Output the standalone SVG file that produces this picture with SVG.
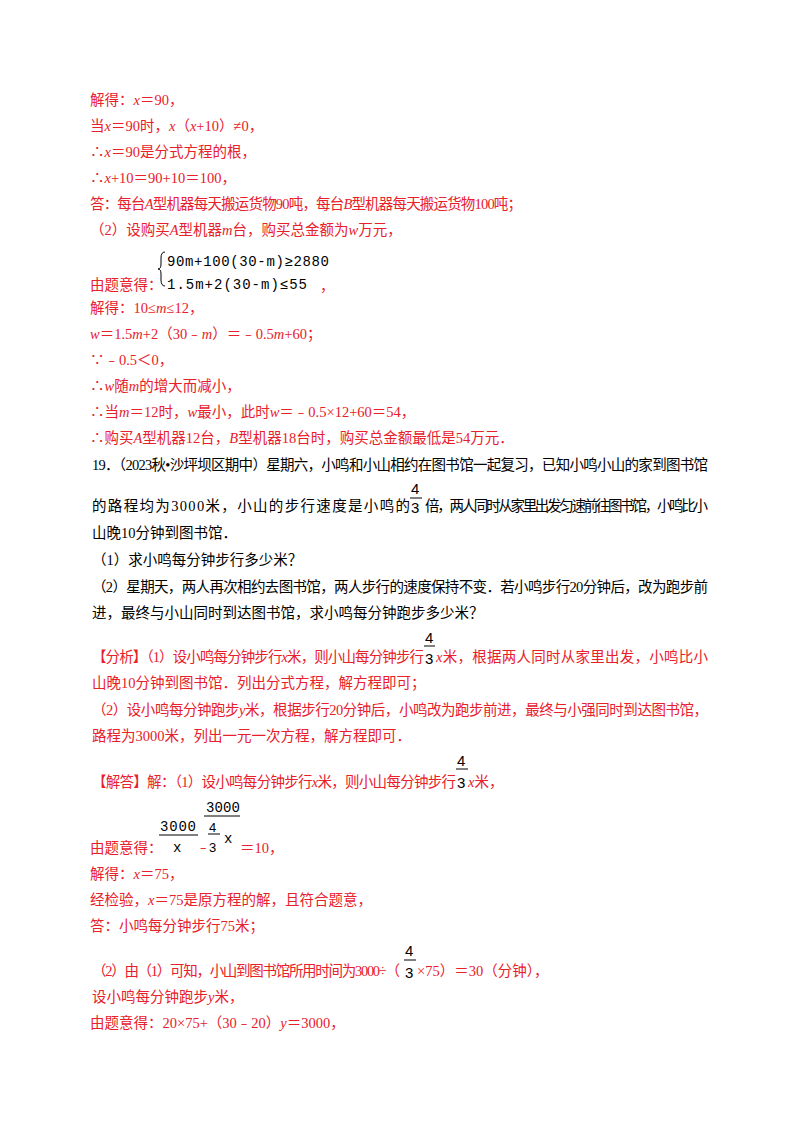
<svg xmlns="http://www.w3.org/2000/svg" width="800" height="1132" viewBox="0 0 800 1132">
<style>
text{font-family:"Liberation Serif","Noto Sans CJK SC",serif;font-size:14.5px;fill:#e8202a}
.k{fill:#000}
.m{font-family:"Liberation Mono","Noto Sans CJK SC",monospace;font-size:14px}
.f{font-family:"Liberation Sans",sans-serif;font-size:15px}
.i{font-style:italic}
line{stroke:#000;stroke-width:1}
</style>
<rect width="800" height="1132" fill="#fff"/>
<text x="90" y="105">解得：<tspan class="i">x</tspan>＝90，</text>
<text x="90" y="131">当<tspan class="i">x</tspan>＝90时，<tspan class="i">x</tspan>（<tspan class="i">x</tspan>+10）≠0，</text>
<text x="90" y="157">∴<tspan class="i">x</tspan>＝90是分式方程的根，</text>
<text x="90" y="183">∴<tspan class="i">x</tspan>+10＝90+10＝100，</text>
<text x="90" y="209" textLength="432">答：每台<tspan class="i">A</tspan>型机器每天搬运货物90吨，每台<tspan class="i">B</tspan>型机器每天搬运货物100吨；</text>
<text x="90" y="235">（2）设购买<tspan class="i">A</tspan>型机器<tspan class="i">m</tspan>台，购买总金额为<tspan class="i">w</tspan>万元，</text>
<text x="90" y="290">由题意得：</text>
<path d="M165 252 q-4 0 -4 6 v6 q0 5 -3 5 q3 0 3 5 v6 q0 6 4 6" fill="none" stroke="#000"/>
<text x="167" y="266" class="m k" textLength="162">90m+100(30-m)≥2880</text>
<text x="167" y="289" class="m k" textLength="140">1.5m+2(30-m)≤55</text>
<text x="320" y="291">，</text>
<text x="90" y="313">解得：10≤<tspan class="i">m</tspan>≤12，</text>
<text x="90" y="339"><tspan class="i">w</tspan>＝1.5<tspan class="i">m</tspan>+2（30﹣<tspan class="i">m</tspan>）＝﹣0.5<tspan class="i">m</tspan>+60；</text>
<text x="90" y="365">∵﹣0.5＜0，</text>
<text x="90" y="391">∴<tspan class="i">w</tspan>随<tspan class="i">m</tspan>的增大而减小，</text>
<text x="90" y="417">∴当<tspan class="i">m</tspan>＝12时，<tspan class="i">w</tspan>最小，此时<tspan class="i">w</tspan>＝﹣0.5×12+60＝54，</text>
<text x="90" y="443">∴购买<tspan class="i">A</tspan>型机器12台，<tspan class="i">B</tspan>型机器18台时，购买总金额最低是54万元．</text>

<text x="92" y="470" class="k" textLength="616">19．（2023秋•沙坪坝区期中）星期六，小鸣和小山相约在图书馆一起复习，已知小鸣小山的家到图书馆</text>
<text x="92" y="511" class="k" textLength="318">的路程均为3000米，小山的步行速度是小鸣的</text>
<text x="411" y="494" class="f k">4</text><line x1="410" y1="498" x2="422" y2="498"/><text x="411" y="513" class="f k">3</text>
<text x="425" y="511" class="k" textLength="283">倍，两人同时从家里出发匀速前往图书馆，小鸣比小</text>
<text x="92" y="538" class="k">山晚10分钟到图书馆．</text>
<text x="92" y="565" class="k">（1）求小鸣每分钟步行多少米？</text>
<text x="92" y="592" class="k" textLength="616">（2）星期天，两人再次相约去图书馆，两人步行的速度保持不变．若小鸣步行20分钟后，改为跑步前</text>
<text x="92" y="618" class="k">进，最终与小山同时到达图书馆，求小鸣每分钟跑步多少米？</text>

<text x="92" y="662" textLength="332">【分析】（1）设小鸣每分钟步行<tspan class="i">x</tspan>米，则小山每分钟步行</text>
<text x="425" y="643" class="f k">4</text><line x1="424" y1="646" x2="435" y2="646"/><text x="425" y="664" class="f k">3</text>
<text x="436" y="662" textLength="272"><tspan class="i">x</tspan>米，根据两人同时从家里出发，小鸣比小</text>
<text x="92" y="688">山晚10分钟到图书馆．列出分式方程，解方程即可；</text>
<text x="92" y="715" textLength="616">（2）设小鸣每分钟跑步<tspan class="i">y</tspan>米，根据步行20分钟后，小鸣改为跑步前进，最终与小强同时到达图书馆，</text>
<text x="92" y="741">路程为3000米，列出一元一次方程，解方程即可．</text>

<text x="92" y="787" textLength="364">【解答】解：（1）设小鸣每分钟步行<tspan class="i">x</tspan>米，则小山每分钟步行</text>
<text x="457" y="766" class="f k">4</text><line x1="456" y1="769" x2="468" y2="769"/><text x="457" y="788" class="f k">3</text>
<text x="468" y="787"><tspan class="i">x</tspan>米，</text>

<text x="90" y="853">由题意得：</text>
<text x="160" y="831" class="m k" textLength="36">3000</text>
<line x1="159" y1="835" x2="198" y2="835"/>
<text x="173" y="852" class="m k">x</text>
<text x="196" y="852">﹣</text>
<text x="206" y="812" class="m k" textLength="34">3000</text>
<line x1="204" y1="816" x2="240" y2="816"/>
<text x="209" y="832" class="f k" style="font-size:13px">4</text>
<line x1="208" y1="834" x2="220" y2="834"/>
<text x="209" y="852" class="f k" style="font-size:13px">3</text>
<text x="224" y="843" class="m k">x</text>
<text x="240" y="853">＝10，</text>
<text x="90" y="879">解得：<tspan class="i">x</tspan>＝75，</text>
<text x="90" y="905">经检验，<tspan class="i">x</tspan>＝75是原方程的解，且符合题意，</text>
<text x="90" y="931">答：小鸣每分钟步行75米；</text>

<text x="92" y="976" textLength="308">（2）由（1）可知，小山到图书馆所用时间为3000÷（</text>
<text x="405" y="956" class="f k">4</text><line x1="404" y1="960" x2="416" y2="960"/><text x="405" y="978" class="f k">3</text>
<text x="417" y="976">×75）＝30（分钟），</text>
<text x="92" y="1002">设小鸣每分钟跑步<tspan class="i">y</tspan>米，</text>
<text x="90" y="1028">由题意得：20×75+（30﹣20）<tspan class="i">y</tspan>＝3000，</text>
</svg>
